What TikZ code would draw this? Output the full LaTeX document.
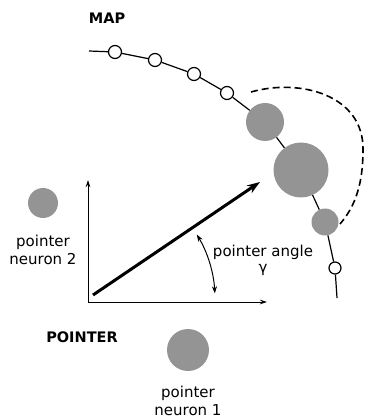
\documentclass[tikz,border=0pt]{standalone}
\usepackage{fontspec}
\setmainfont{DejaVu Sans}
\usetikzlibrary{arrows.meta}
\definecolor{neurongray}{RGB}{148,148,148}
\begin{document}
\begin{tikzpicture}[x=1pt,y=-1pt,
  open/.style={circle,draw=black,fill=white,line width=1.2pt,inner sep=0pt,minimum size=13pt},
  act/.style={circle,fill=neurongray,inner sep=0pt},
  lbl/.style={font=\fontsize{15}{17}\selectfont,align=center,inner sep=0pt},
  head/.style={font=\fontsize{14.5}{17}\selectfont\bfseries,inner sep=0pt},
  chain/.style={line width=1.2pt},
  axis/.style={line width=0.9pt,-{Stealth[length=7pt,width=4.5pt]}}]
\useasboundingbox (0,0) rectangle (367,419);
% map chain
\coordinate (s) at (89,51);
\node[open] (o1) at (115,52) {};
\node[open] (o2) at (155,60) {};
\node[open] (o3) at (194,74) {};
\node[open] (o4) at (227,93) {};
\node[act,minimum size=38pt] (g1) at (265,122) {};
\node[act,minimum size=55pt] (g2) at (301,170) {};
\node[act,minimum size=27pt] (g3) at (325,222) {};
\node[open,minimum size=12pt] (o5) at (335,268) {};
\coordinate (e) at (337,298);
\draw[chain] (s) -- (o1) -- (o2) -- (o3) -- (o4) -- (g1) -- (g2) -- (g3) -- (o5) -- (e);
% dashed neighbourhood
\coordinate (d1) at (251,92);
\coordinate (d2) at (363,150);
\coordinate (d3) at (340,224);
\draw[dashed,line width=1.6pt,dash pattern=on 7pt off 4pt] (d1) .. controls (300,78) and (364,95) .. (d2) .. controls (363,190) and (352,210) .. (d3);
\node[head] (map) at (107,18) {MAP};
% pointer axes
\coordinate (org) at (88,302);
\coordinate (ytop) at (88,180);
\coordinate (xend) at (267,302);
\draw[axis] (org) -- (ytop);
\draw[axis] (org) -- (xend);
\coordinate (p0) at (93,295);
\coordinate (p1) at (260,182);
\draw[line width=3pt,-{Stealth[length=13pt,width=9pt]}] (p0) -- (p1);
% angle
\coordinate (ac) at (88,300);
\draw[line width=1pt,{Stealth[length=7pt,width=5pt]}-{Stealth[length=7pt,width=5pt]}] ([shift={(31:127pt)}]ac) arc[start angle=31,end angle=3,radius=127pt];
\node[lbl] (ang) at (263,252) {pointer angle};
\node[lbl] (gam) at (263,270) {γ};
% pointer neurons
\node[act,minimum size=30pt] (n2) at (43,203) {};
\node[lbl] (n2t) at (43,250) {pointer\\[1pt]neuron 2};
\node[head] (ptr) at (82,337) {POINTER};
\node[act,minimum size=42pt] (n1) at (188,350) {};
\node[lbl] (n1t) at (188,401) {pointer\\[1pt]neuron 1};
\end{tikzpicture}
\end{document}
